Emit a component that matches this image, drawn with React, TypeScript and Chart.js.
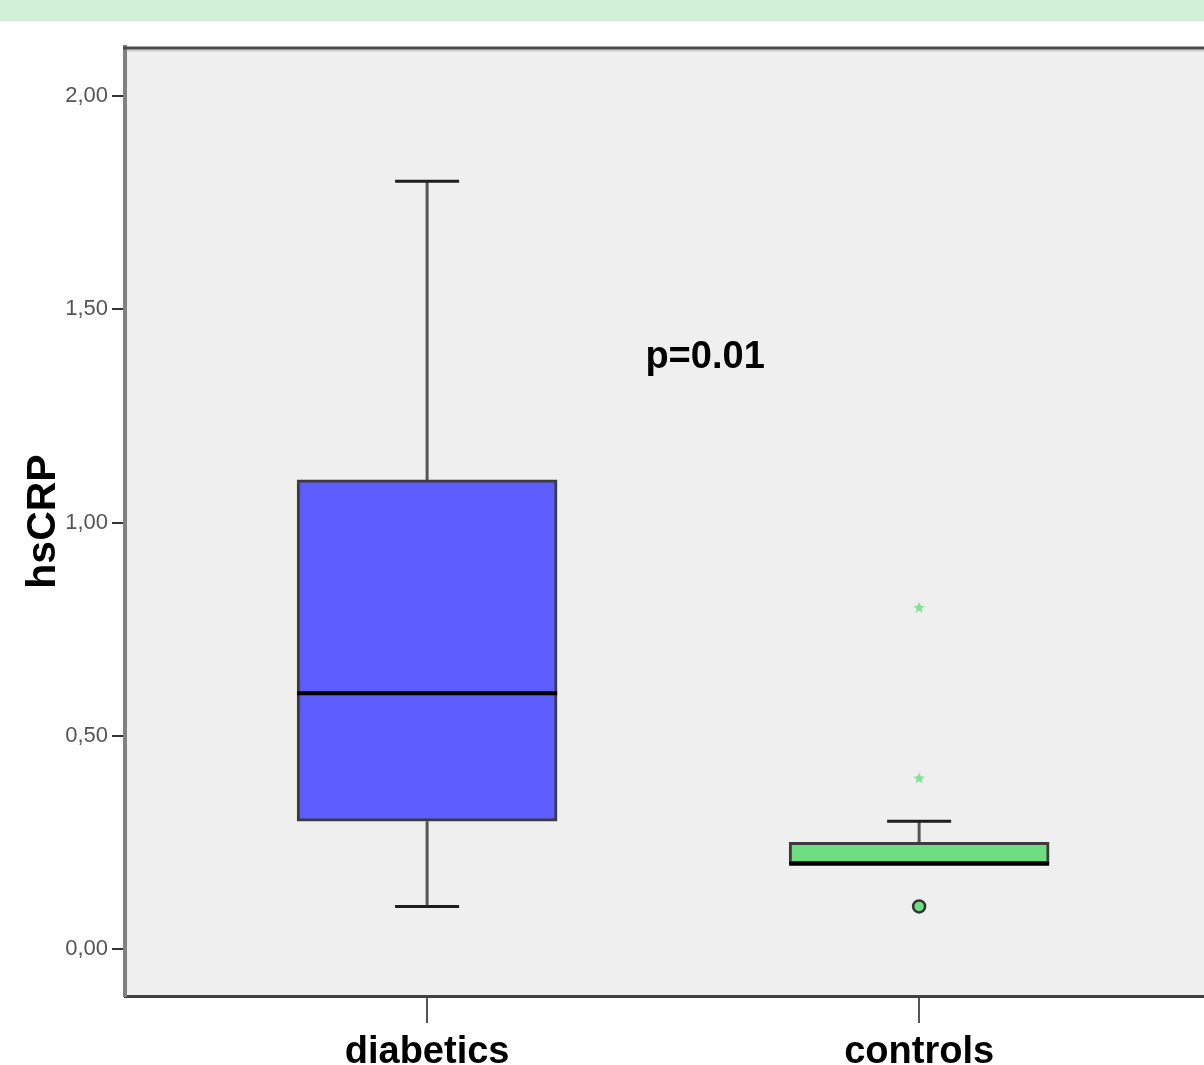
import React, { useEffect, useRef } from "react";
import { Chart, registerables } from "chart.js";

Chart.register(...registerables);

// ---- data ----
const groups = ["diabetics", "controls"];
const groupX = [1, 2];
const q1 = [0.3, 0.2];
const q3 = [1.1, 0.25];
const medians = [0.6, 0.2];
const whiskerMin = [0.1, 0.2];
const whiskerMax = [1.8, 0.3];
const outlierCircles = [{ x: 2, y: 0.1 }];
const outlierStars = [{ x: 2, y: 0.8 }, { x: 2, y: 0.4 }];
const yTicks = [0, 0.5, 1, 1.5, 2];
const yAxisTitle = "hsCRP";
const annotationText = "p=0.01";
const annotationPos = { x: 1.565, y: 1.388 };

const boxColors = ["#5c5cff", "#6edc80"];

function makeStar(color: string, size: number) {
  const c = document.createElement("canvas");
  c.width = size;
  c.height = size;
  const ctx = c.getContext("2d")!;
  const cx = size / 2, cy = size / 2, R = size / 2, r = R * 0.45;
  ctx.beginPath();
  for (let i = 0; i < 10; i++) {
    const rad = i % 2 === 0 ? R : r;
    const a = -Math.PI / 2 + (i * Math.PI) / 5;
    const px = cx + rad * Math.cos(a), py = cy + rad * Math.sin(a);
    if (i === 0) ctx.moveTo(px, py); else ctx.lineTo(px, py);
  }
  ctx.closePath();
  ctx.fillStyle = color;
  ctx.fill();
  return c;
}

const framePlugin = {
  id: "frame",
  beforeDraw(chart: any) {
    const { ctx, chartArea: a, width } = chart;
    ctx.save();
    ctx.fillStyle = "#d2f0d8";
    ctx.fillRect(0, 0, width, 21);
    ctx.fillStyle = "#efefef";
    ctx.fillRect(a.left, a.top, a.right - a.left, a.bottom - a.top);
    ctx.restore();
  },
  afterDraw(chart: any) {
    const { ctx, chartArea: a } = chart;
    ctx.save();
    ctx.strokeStyle = "#d6d6d6";
    ctx.lineWidth = 3;
    ctx.beginPath();
    ctx.moveTo(a.left + 2, a.top + 3.5);
    ctx.lineTo(a.right, a.top + 3.5);
    ctx.stroke();
    ctx.strokeStyle = "#4a4a4a";
    ctx.lineWidth = 3;
    ctx.beginPath();
    ctx.moveTo(a.left - 2, a.top + 1);
    ctx.lineTo(a.right, a.top + 1);
    ctx.stroke();
    ctx.restore();
  },
};

const whiskerPlugin = {
  id: "whiskers",
  beforeDatasetsDraw(chart: any) {
    const { ctx } = chart;
    const xs = chart.scales.x, ys = chart.scales.y;
    ctx.save();
    groupX.forEach((gx, i) => {
      const cx = xs.getPixelForValue(gx);
      const half = 32;
      ctx.strokeStyle = "#555555";
      ctx.lineWidth = 3;
      ctx.beginPath();
      ctx.moveTo(cx, ys.getPixelForValue(q3[i]));
      ctx.lineTo(cx, ys.getPixelForValue(whiskerMax[i]));
      ctx.moveTo(cx, ys.getPixelForValue(q1[i]));
      ctx.lineTo(cx, ys.getPixelForValue(whiskerMin[i]));
      ctx.stroke();
      ctx.strokeStyle = "#1e1e1e";
      ctx.lineWidth = 3;
      ctx.beginPath();
      if (whiskerMax[i] > q3[i]) {
        const yMax = ys.getPixelForValue(whiskerMax[i]);
        ctx.moveTo(cx - half, yMax);
        ctx.lineTo(cx + half, yMax);
      }
      if (whiskerMin[i] < q1[i]) {
        const yMin = ys.getPixelForValue(whiskerMin[i]);
        ctx.moveTo(cx - half, yMin);
        ctx.lineTo(cx + half, yMin);
      }
      ctx.stroke();
    });
    ctx.restore();
  },
  afterDatasetsDraw(chart: any) {
    const { ctx } = chart;
    const xs = chart.scales.x, ys = chart.scales.y;
    const meta = chart.getDatasetMeta(0);
    ctx.save();
    groupX.forEach((gx, i) => {
      const bar = meta.data[i];
      const w = bar ? bar.width : 260;
      const cx = xs.getPixelForValue(gx);
      const my = ys.getPixelForValue(medians[i]);
      ctx.strokeStyle = "#000000";
      ctx.lineWidth = 4;
      ctx.beginPath();
      ctx.moveTo(cx - w / 2, my);
      ctx.lineTo(cx + w / 2, my);
      ctx.stroke();
    });
    ctx.font = "bold 38px 'Liberation Sans', Arial, sans-serif";
    ctx.fillStyle = "#000000";
    ctx.textAlign = "center";
    ctx.textBaseline = "middle";
    ctx.fillText(
      annotationText,
      xs.getPixelForValue(annotationPos.x),
      ys.getPixelForValue(annotationPos.y)
    );
    ctx.restore();
  },
};

export default function App() {
  const ref = useRef<HTMLCanvasElement | null>(null);
  useEffect(() => {
    document.body.style.margin = "0";
    document.body.style.overflow = "hidden";
    const canvas = ref.current!;
    const star = makeStar("#86e096", 12);
    const chart = new Chart(canvas, {
      type: "bar",
      data: {
        datasets: [
          {
            type: "bar",
            data: groupX.map((x, i) => ({ x, y: [q1[i], q3[i]] })) as any,
            backgroundColor: boxColors,
            borderColor: "#3c3c3c",
            borderWidth: 3,
            borderSkipped: false,
            barThickness: 260,
            order: 2,
          } as any,
          {
            type: "scatter",
            data: outlierCircles,
            pointStyle: "circle",
            pointRadius: 6,
            backgroundColor: "#6edc80",
            borderColor: "#333333",
            borderWidth: 2.5,
            order: 1,
          } as any,
          {
            type: "scatter",
            data: outlierStars,
            pointStyle: star,
            order: 1,
          } as any,
        ],
      },
      options: {
        responsive: false,
        animation: false,
        layout: { autoPadding: false, padding: { top: 47, left: 0, right: 0, bottom: 0 } },
        plugins: { legend: { display: false }, tooltip: { enabled: false } },
        scales: {
          x: {
            type: "linear",
            offset: false,
            min: 0.386,
            max: 2.579,
            afterBuildTicks: (s: any) => {
              s.ticks = groupX.map((v) => ({ value: v }));
            },
            afterFit: (s: any) => {
              s.height = 69;
            },
            ticks: {
              callback: (v: any) => {
                const i = groupX.indexOf(Number(v));
                return i >= 0 ? groups[i] : "";
              },
              color: "#000000",
              font: { family: "'Liberation Sans', Arial, sans-serif", size: 38, weight: "bold" },
              padding: 7,
              maxRotation: 0,
              autoSkip: false,
            },
            grid: {
              offset: false,
              drawOnChartArea: false,
              drawTicks: true,
              tickLength: 27,
              color: "#555555",
              lineWidth: 2,
            },
            border: { display: true, color: "#404040", width: 3 },
          },
          y: {
            type: "linear",
            min: -0.11,
            max: 2.115,
            afterBuildTicks: (s: any) => {
              s.ticks = yTicks.map((v) => ({ value: v }));
            },
            afterFit: (s: any) => {
              s.width = 125;
            },
            ticks: {
              callback: (v: any) => Number(v).toFixed(2).replace(".", ","),
              color: "#555555",
              font: { family: "'Liberation Sans', Arial, sans-serif", size: 22 },
              padding: 4,
            },
            grid: {
              drawOnChartArea: false,
              drawTicks: true,
              tickLength: 13,
              color: "#333333",
              lineWidth: 2,
            },
            border: { display: true, color: "#808080", width: 4 },
            title: {
              display: true,
              text: yAxisTitle,
              color: "#000000",
              font: { family: "'Liberation Sans', Arial, sans-serif", size: 41, weight: "bold" },
              padding: { top: 19, bottom: 0 },
            },
          },
        },
      },
      plugins: [framePlugin, whiskerPlugin],
    });
    return () => chart.destroy();
  }, []);
  return <canvas ref={ref} width={1204} height={1065} style={{ display: "block" }} />;
}
